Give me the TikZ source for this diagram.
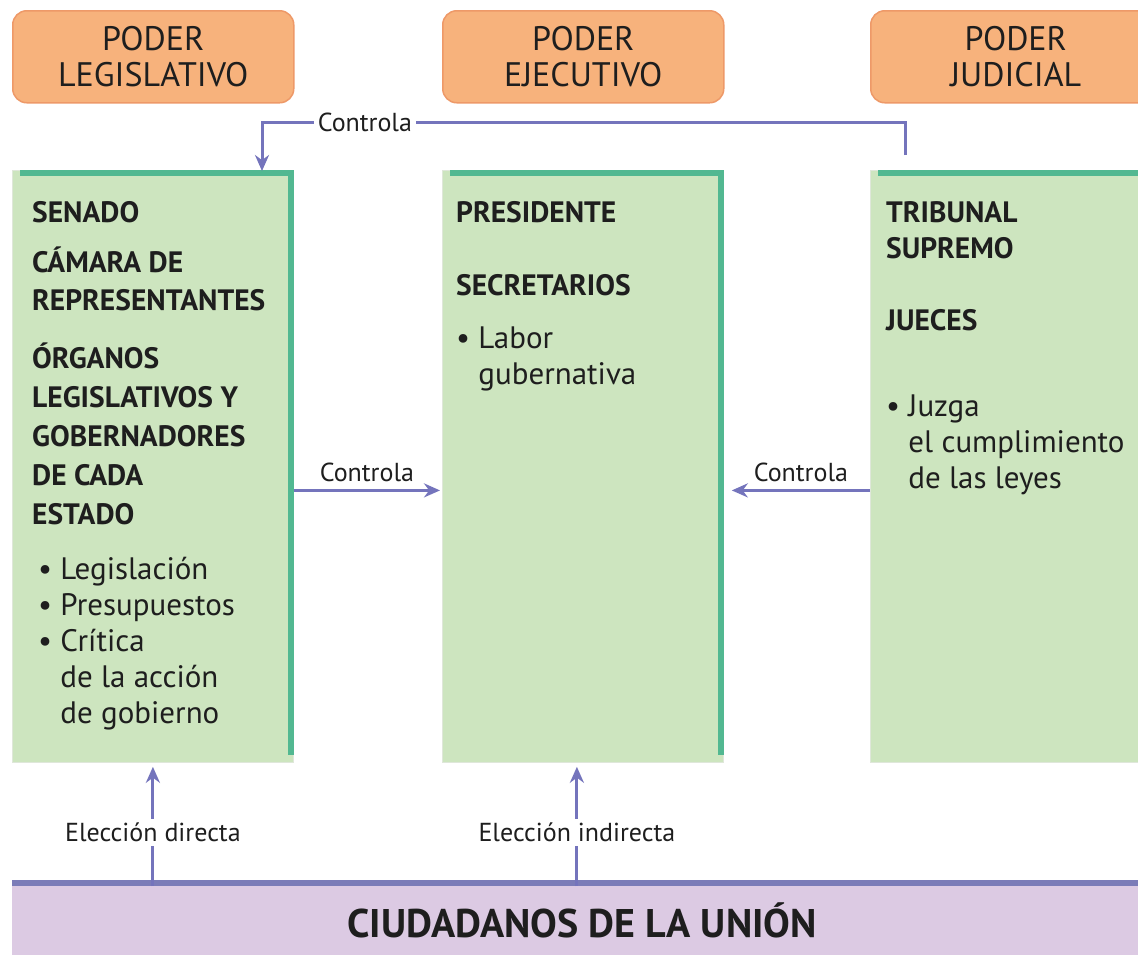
\documentclass[tikz,border=0pt]{standalone}
\usepackage{fontspec}
\setmainfont{PT Sans}
\usetikzlibrary{arrows.meta}
\definecolor{naranja}{HTML}{F7B27C}
\definecolor{naranjaborde}{HTML}{EE9968}
\definecolor{verde}{HTML}{CDE5BF}
\definecolor{verdeborde}{HTML}{52B891}
\definecolor{lila}{HTML}{DCCAE3}
\definecolor{lilaborde}{HTML}{7B7CB8}
\definecolor{flecha}{HTML}{7474BC}
\definecolor{tinta}{HTML}{1E1E1E}

\begin{document}
\begin{tikzpicture}[x=1pt,y=-1pt,
	poder/.style={draw=naranjaborde,fill=naranja,line width=1.5pt,rounded corners=14pt,anchor=north west,minimum width=281pt,minimum height=92pt,align=center,text=tinta,font=\fontsize{34}{36}\selectfont},
	organo/.style={draw=verde!85!black!40,fill=verde,line width=0.8pt,anchor=north west,minimum width=281pt,minimum height=592pt},
	mayus/.style={anchor=north west,inner sep=0pt,align=left,text=tinta,font=\bfseries\fontsize{29.5}{39}\selectfont},
	lista/.style={anchor=north west,inner sep=0pt,align=left,text=tinta,font=\fontsize{31}{36}\selectfont},
	conn/.style={draw=flecha,line width=3pt},
	punta/.style={-{Stealth[length=16pt,width=14pt]}},
	etiqueta/.style={fill=white,inner sep=4pt,text=tinta,font=\fontsize{26}{28}\selectfont}]
	\clip (0,0) rectangle (1138,954);
	\fill[white] (0,0) rectangle (1138,954);

	\node[poder] (pleg) at (12,10) {PODER\\LEGISLATIVO};
	\node[poder] (peje) at (442,10) {PODER\\EJECUTIVO};
	\node[poder,minimum width=290pt] (pjud) at (870,10) {PODER\\JUDICIAL};

	\node[organo] (leg) at (12,170) {};
	\node[organo] (eje) at (442,170) {};
	\node[organo,minimum width=290pt] (jud) at (870,170) {};
	\foreach \b in {leg,eje,jud}
		\draw[verdeborde,line width=6pt] ([xshift=8pt,yshift=-3pt]\b.north west) -- ([xshift=-3pt,yshift=-3pt]\b.north east) -- ([xshift=-3pt,yshift=8pt]\b.south east);

	\node[mayus] (legcargos) at (32,201) {SENADO\\[11pt]CÁMARA DE\\[-1pt]REPRESENTANTES\\[19pt]ÓRGANOS\\LEGISLATIVOS Y\\GOBERNADORES\\DE CADA\\ESTADO};
	\node[lista] (legfunc) at (38,557) {\textbullet\ Legislación\\\textbullet\ Presupuestos\\\textbullet\ Crítica\\\phantom{\textbullet\ }de la acción\\\phantom{\textbullet\ }de gobierno};

	\node[mayus] (ejecargos) at (456,201) {PRESIDENTE\\[34pt]SECRETARIOS};
	\node[lista] (ejefunc) at (456,327) {\textbullet\ Labor\\\phantom{\textbullet\ }gubernativa};

	\node[mayus] (judcargos) at (886,201) {TRIBUNAL\\[-3pt]SUPREMO\\[33pt]JUECES};
	\node[lista] (judfunc) at (886,395) {\textbullet\ Juzga\\\phantom{\textbullet\ }el cumplimiento\\\phantom{\textbullet\ }de las leyes};

	\node[fill=lila,anchor=north west,minimum width=1140pt,minimum height=80pt,text=tinta,font=\bfseries\fontsize{40}{42}\selectfont] (ciu) at (12,880) {CIUDADANOS DE LA UNIÓN};
	\draw[lilaborde,line width=6pt] ([yshift=-3pt]ciu.north west) -- ([yshift=-3pt]ciu.north east);

	\coordinate (ctop) at ([xshift=35pt,yshift=15pt]jud.north west);
	\draw[conn,punta] (ctop) -- ++(0,-33) -| node[etiqueta,pos=0.42] {Controla} ([xshift=250pt,yshift=-1pt]leg.north west);
	\draw[conn,punta] ([yshift=-24pt]leg.east) -- node[above=4pt,text=tinta,font=\fontsize{26}{28}\selectfont] {Controla} ([xshift=-2pt,yshift=-24pt]eje.west);
	\draw[conn,punta] ([yshift=-24pt]jud.west) -- node[above=4pt,text=tinta,font=\fontsize{26}{28}\selectfont] {Controla} ([xshift=8pt,yshift=-24pt]eje.east);
	\draw[conn,punta] ([yshift=-6pt]leg.south |- ciu.north) -- node[etiqueta,pos=0.45] {Elección directa} ([yshift=-4pt]leg.south);
	\draw[conn,punta] ([xshift=-6pt,yshift=-6pt]eje.south |- ciu.north) -- node[etiqueta,pos=0.45] {Elección indirecta} ([xshift=-6pt,yshift=-4pt]eje.south);
\end{tikzpicture}
\end{document}
